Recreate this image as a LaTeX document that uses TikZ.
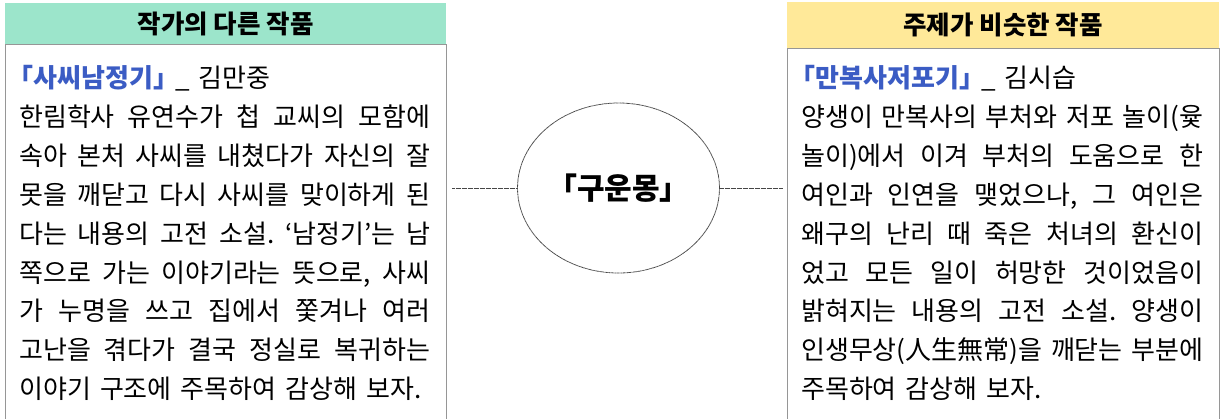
\documentclass[tikz,border=0pt]{standalone}
\usepackage{fontspec}
\setmainfont{Noto Sans CJK KR}
\usetikzlibrary{shapes.geometric}
\definecolor{hdrgreen}{RGB}{156,229,203}
\definecolor{hdryellow}{RGB}{255,233,153}
\definecolor{bordergray}{RGB}{150,150,150}
\definecolor{titleblue}{RGB}{59,92,196}
\definecolor{linegray}{RGB}{70,70,70}
\tikzset{
  hdr/.style={fill=#1, draw=none, anchor=north west, inner sep=0pt,
    font=\fontsize{25.5}{30}\selectfont\bfseries},
  bodybox/.style={draw=bordergray, line width=1.4pt, fill=white, anchor=north west, inner sep=0pt},
  bodytext/.style={anchor=base west, inner sep=0pt},
  conn/.style={draw=linegray, line width=0.8pt, dash pattern=on 0.8pt off 0.4pt},
  hub/.style={ellipse, draw=linegray, line width=0.8pt, dash pattern=on 0.8pt off 0.4pt,
    minimum width=197pt, minimum height=170pt, inner sep=0pt,
    font=\fontsize{30}{34}\selectfont\bfseries}
}
\newcommand{\bodysetup}{\setlength\parindent{0pt}\fontsize{26}{38.9}\selectfont
  \hbadness=10000 \tolerance=10000 \lineskiplimit=-100pt \frenchspacing
  \spaceskip=0.35em plus 3em minus 0.15em\relax}
\newcommand{\worktitle}[1]{\leavevmode\hspace*{-0.45em}{\color{titleblue}\bfseries #1}\hspace{-0.5em}}
\begin{document}
\begin{tikzpicture}[x=1pt,y=-1pt]
\clip (0,0) rectangle (1220,418);
\fill[white] (0,0) rectangle (1220,418);
% left panel
\node[bodybox, minimum width=441pt, minimum height=400pt] (lbox) at (5,44) {};
\node[hdr=hdrgreen, minimum width=441pt, minimum height=41pt] (lhead) at (5,3) {작가의 다른 작품};
\node[bodytext] (ltext) at (19,87.5) {\begin{minipage}[t]{411pt}\bodysetup
\worktitle{「사씨남정기」} \_ 김만중\par
한림학사 유연수가 첩 교씨의 모함에\linebreak
속아 본처 사씨를 내쳤다가 자신의 잘\linebreak
못을 깨닫고 다시 사씨를 맞이하게 된\linebreak
다는 내용의 고전 소설. ‘남정기’는 남\linebreak
쪽으로 가는 이야기라는 뜻으로, 사씨\linebreak
가 누명을 쓰고 집에서 쫓겨나 여러\linebreak
고난을 겪다가 결국 정실로 복귀하는\linebreak
이야기 구조에 주목하여 감상해 보자.\par
\end{minipage}};
% right panel
\node[bodybox, minimum width=432pt, minimum height=400pt] (rbox) at (787,48) {};
\node[hdr=hdryellow, minimum width=432pt, minimum height=46pt] (rhead) at (787,2) {주제가 비슷한 작품};
\node[bodytext] (rtext) at (801,87.5) {\begin{minipage}[t]{402pt}\bodysetup
\worktitle{「만복사저포기」} \_ 김시습\par
양생이 만복사의 부처와 저포 놀이(윷\linebreak
놀이)에서 이겨 부처의 도움으로 한\linebreak
여인과 인연을 맺었으나, 그 여인은\linebreak
왜구의 난리 때 죽은 처녀의 환신이\linebreak
었고 모든 일이 허망한 것이었음이\linebreak
밝혀지는 내용의 고전 소설. 양생이\linebreak
인생무상(人生無常)을 깨닫는 부분에\linebreak
주목하여 감상해 보자.\par
\end{minipage}};
% centre
\node[hub] (hubnode) at (618.5,188) {「구운몽」};
\coordinate (lend) at (452,188);
\coordinate (rend) at (783,188);
\draw[conn] (lend) -- (hubnode.west);
\draw[conn] (hubnode.east) -- (rend);
\end{tikzpicture}
\end{document}
